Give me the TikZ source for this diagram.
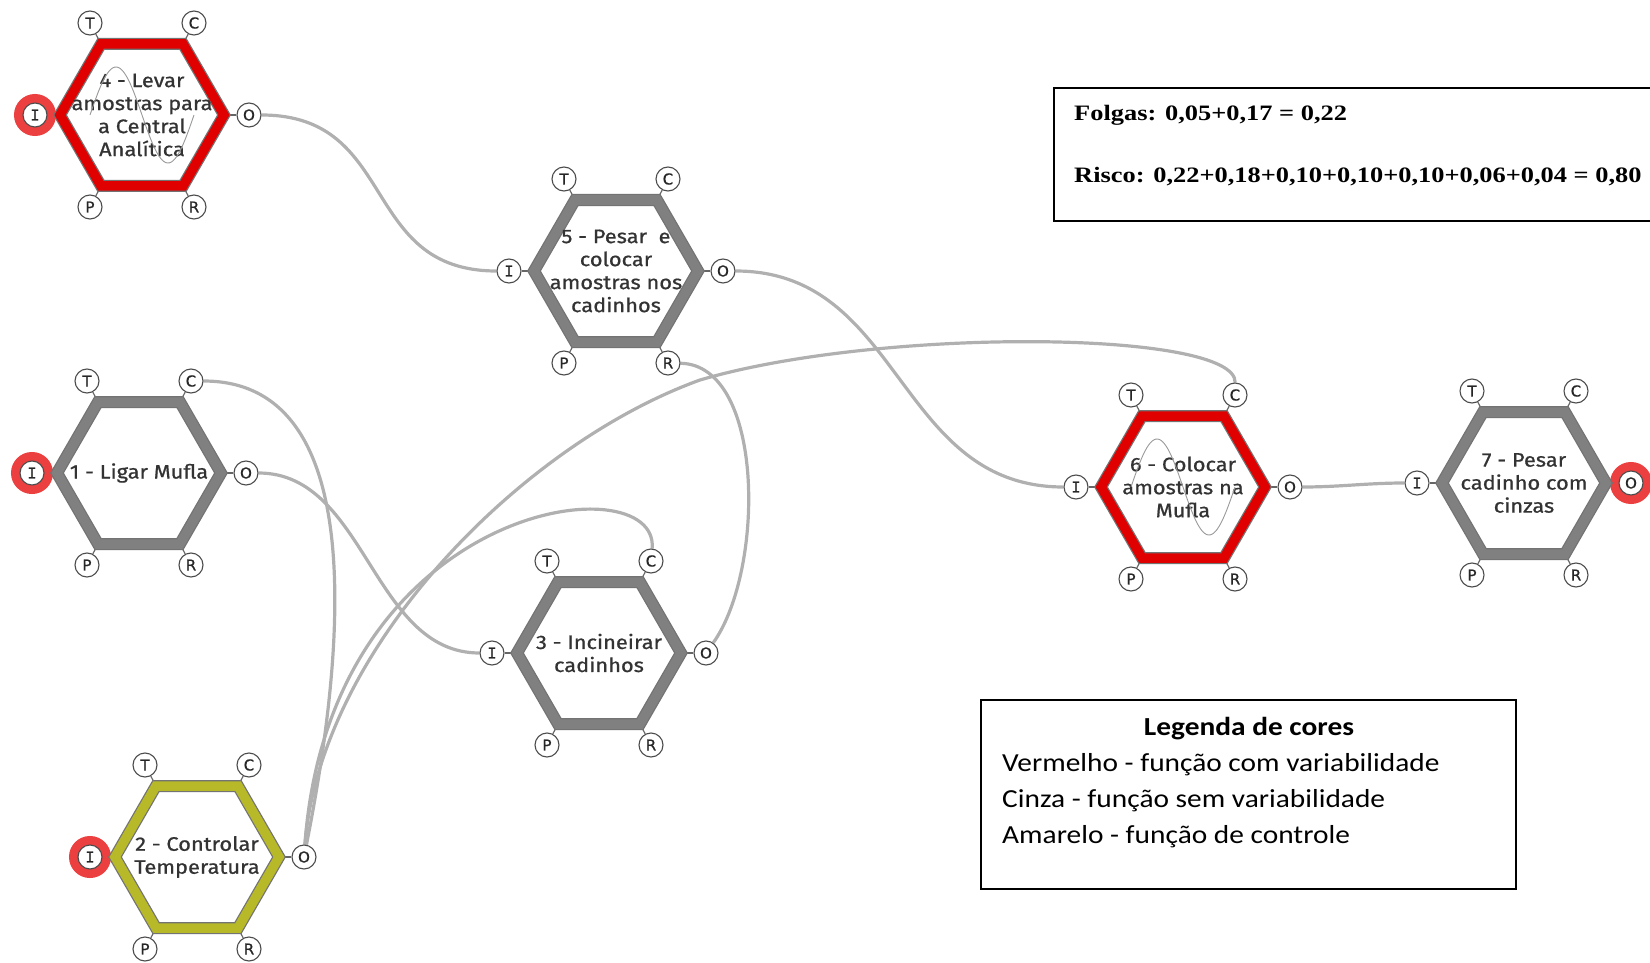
\documentclass[tikz,border=0pt]{standalone}
\usepackage{fontspec}
\newfontfamily\hexfont[FakeStretch=1.12,FakeBold=0.8]{Fira Sans}
\newfontfamily\portfont[FakeBold=0.8]{DejaVu Sans}
\newfontfamily\portmono[FakeBold=0.8]{DejaVu Sans Mono}
\newfontfamily\timesfont[FakeStretch=1.2]{Liberation Serif}
\newfontfamily\legfont[FakeStretch=1.13]{Carlito}
\definecolor{fnred}{RGB}{224,0,0}
\definecolor{fngray}{RGB}{128,128,128}
\definecolor{fnolive}{RGB}{183,185,40}
\definecolor{ringred}{RGB}{236,64,64}
\definecolor{connc}{RGB}{176,176,176}
\pgfdeclarelayer{bg}
\pgfsetlayers{bg,main}
\tikzset{
  fnlabel/.style={align=center, font=\hexfont\fontsize{19.5}{23}\selectfont, text=black!80, inner sep=0},
  port/.style={circle, draw=black!70, line width=1.1, fill=white, minimum size=24, inner sep=0,
               font=\portfont\fontsize{15}{15}\selectfont, text=black!85},
  hexedge/.style={line width=12, draw=black!55, line join=miter},
  hexcore/.style={line width=9.5, line join=miter},
  tick/.style={draw=black!60, line width=1.2},
  conn/.style={draw=connc, line width=3.2},
  ring/.style={draw=ringred, line width=10},
  wave/.style={draw=black!40, line width=0.9},
  txtbox/.style={draw=black, line width=1.5}
}
\newcommand\framfn[5]{%
\begin{scope}[shift={(#2,#3)}]
  \coordinate (#1-vI) at (-82,0);
  \coordinate (#1-vT) at (-41,-71);
  \coordinate (#1-vC) at (41,-71);
  \coordinate (#1-vO) at (82,0);
  \coordinate (#1-vR) at (41,71);
  \coordinate (#1-vP) at (-41,71);
  \draw[hexedge] (#1-vI) -- (#1-vT) -- (#1-vC) -- (#1-vO) -- (#1-vR) -- (#1-vP) -- cycle;
  \draw[hexcore,draw=#4] (#1-vI) -- (#1-vT) -- (#1-vC) -- (#1-vO) -- (#1-vR) -- (#1-vP) -- cycle;
  \node[fnlabel] (#1) at (0,0) {#5};
  \node[port] (#1-T) at (-52,-92) {T};
  \node[port] (#1-C) at (52,-92) {C};
  \node[port] (#1-I) at (-107,0) {\portmono I};
  \node[port] (#1-O) at (107,0) {O};
  \node[port] (#1-P) at (-52,92) {P};
  \node[port] (#1-R) at (52,92) {R};
  \begin{pgfonlayer}{bg}
    \draw[tick] (#1-T) -- (#1-vT);
    \draw[tick] (#1-C) -- (#1-vC);
    \draw[tick] (#1-I) -- (#1-vI);
    \draw[tick] (#1-O) -- (#1-vO);
    \draw[tick] (#1-P) -- (#1-vP);
    \draw[tick] (#1-R) -- (#1-vR);
  \end{pgfonlayer}
\end{scope}}
\begin{document}
\begin{tikzpicture}[x=1pt,y=-1pt]
\useasboundingbox (0,0) rectangle (1650,963);

% functions
\framfn{n4}{142}{115}{fnred}{4 - Levar\\amostras para\\a Central\\Analítica}
\framfn{n5}{616}{271}{fngray}{5 - Pesar\ \ e\\colocar\\amostras nos\\cadinhos}
\framfn{n1}{139}{473}{fngray}{1 - Ligar Mufla}
\framfn{n2}{197}{857}{fnolive}{2 - Controlar\\Temperatura}
\framfn{n3}{599}{653}{fngray}{3 - Incineirar\\cadinhos}
\framfn{n6}{1183}{487}{fnred}{6 - Colocar\\amostras na\\Mufla}
\framfn{n7}{1524}{483}{fngray}{7 - Pesar\\cadinho com\\cinzas}

% variability waves
\begin{scope}[shift={(n4.center)}]
  \draw[wave] plot[domain=-52:52, samples=60, smooth] (\x, {48*sin(180*\x/52)});
\end{scope}
\begin{scope}[shift={(n6.center)}]
  \draw[wave] plot[domain=-52:52, samples=60, smooth] (\x, {48*sin(180*\x/52)});
\end{scope}

\coordinate (g1) at (700,380);

\begin{pgfonlayer}{bg}
  % connectors
  \draw[conn] (n4-O) .. controls +(150,0) and +(-150,0) .. (n5-I);
  \draw[conn] (n5-O) .. controls +(180,0) and +(-180,0) .. (n6-I);
  \draw[conn] (n6-O) .. controls +(50,0) and +(-50,0) .. (n7-I);
  \draw[conn] (n1-O) .. controls +(120,0) and +(-120,0) .. (n3-I);
  \draw[conn] (n1-C) .. controls (370,381) and (345,650) .. (n2-O);
  \draw[conn] (n5-R) .. controls (765,365) and (765,570) .. (n3-O);
  \draw[conn] (n2-O) .. controls (320,650) and (520,445) .. (g1)
                     .. controls (880,327) and (1236,330) .. (n6-C);
  \draw[conn] (n2-O) .. controls (330,500) and (660,462) .. (n3-C);
  % variability rings
  \draw[ring] (n4-I) circle[radius=16];
  \draw[ring] (n1-I) circle[radius=16];
  \draw[ring] (n2-I) circle[radius=16];
  \draw[ring] (n7-O) circle[radius=16];
\end{pgfonlayer}

% totals box
\draw[txtbox] (1650,88) -- (1054,88) -- (1054,221) -- (1650,221);
\node[anchor=west, inner sep=0, font=\timesfont\bfseries\fontsize{22}{26}\selectfont] (folgas) at (1074,115)
  {Folgas: 0,05+0,17 = 0,22};
\node[anchor=west, inner sep=0, font=\timesfont\bfseries\fontsize{22}{26}\selectfont] (risco) at (1074,177)
  {Risco: 0,22+0,18+0,10+0,10+0,10+0,06+0,04 = 0,80};

% legend
\draw[txtbox] (981,700) rectangle (1516,889);
\node[inner sep=0, font=\legfont\bfseries\fontsize{26}{36}\selectfont] (legtitle) at (1249,729) {Legenda de cores};
\node[anchor=west, align=left, inner sep=0, font=\legfont\fontsize{26}{36}\selectfont] (legbody) at (1002,801)
  {Vermelho - função com variabilidade\\Cinza - função sem variabilidade\\Amarelo - função de controle};
\end{tikzpicture}
\end{document}
